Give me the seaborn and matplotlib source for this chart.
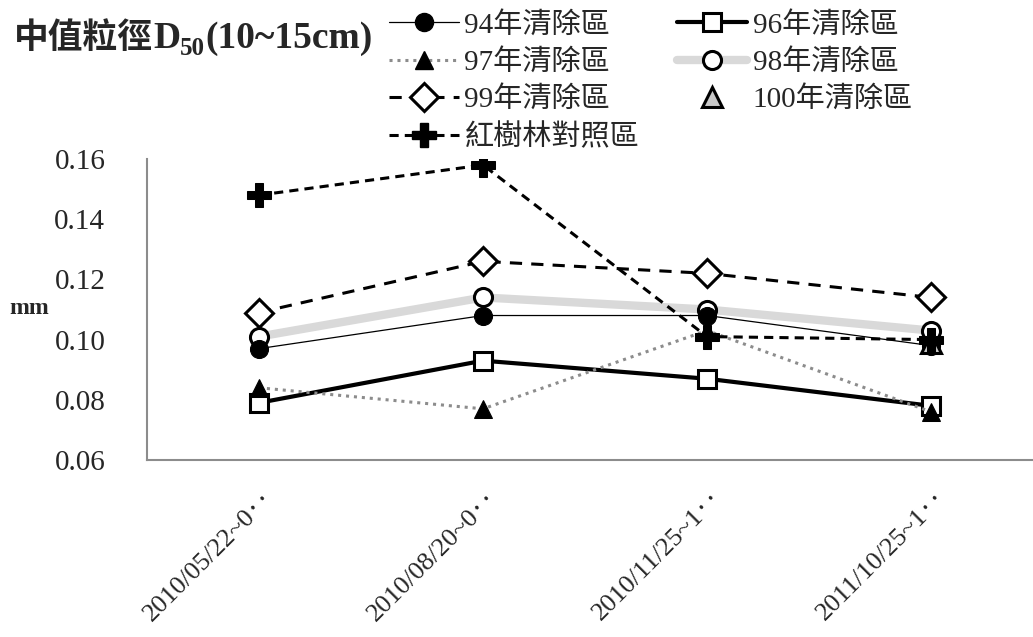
import numpy as np
import pandas as pd
import seaborn as sns
import matplotlib.pyplot as plt
import matplotlib.transforms as mtransforms
from matplotlib.lines import Line2D

# --- data ---
dates = ["2010/05/22~0‥", "2010/08/20~0‥", "2010/11/25~1‥", "2011/10/25~1‥"]
d94 = [0.097, 0.108, 0.108, 0.098]
d96 = [0.079, 0.093, 0.087, 0.078]
d97 = [0.084, 0.077, 0.103, 0.076]
d98 = [0.101, 0.114, 0.110, 0.103]
d99 = [0.109, 0.126, 0.122, 0.114]
d100 = [np.nan, np.nan, np.nan, 0.099]
dmang = [0.148, 0.158, 0.101, 0.100]
yticks = [0.06, 0.08, 0.10, 0.12, 0.14, 0.16]

SERIF = ['Liberation Serif', 'Noto Sans CJK TC', 'DejaVu Sans']

sns.set_style("white")
plt.rcParams['font.family'] = SERIF
plt.rcParams['axes.unicode_minus'] = False

W, H = 1033, 637
fig = plt.figure(figsize=(W / 100, H / 100), dpi=100)
ax = fig.add_axes([147 / W, 177 / H, (W - 147) / W, 301 / H])

x = np.arange(len(dates))

# series styles: (name, values, line kwargs)
series = [
    ("98年清除區", d98, dict(color="#d9d9d9", lw=6, ls="-", marker="o", ms=13,
                         mfc="white", mec="black", mew=2.2)),
    ("94年清除區", d94, dict(color="black", lw=0.9, ls="-", marker="o", ms=13,
                         mfc="black", mec="black")),
    ("96年清除區", d96, dict(color="black", lw=3, ls="-", marker="s", ms=13,
                         mfc="white", mec="black", mew=2.2)),
    ("97年清除區", d97, dict(color="#8c8c8c", lw=2.2, ls=(0, (1, 1.6)), marker="^", ms=13,
                         mfc="black", mec="black")),
    ("99年清除區", d99, dict(color="black", lw=2.2, ls=(0, (4, 3)), marker="D", ms=14,
                         mfc="white", mec="black", mew=2.2)),
    ("100年清除區", d100, dict(color="black", lw=0, ls="", marker="^", ms=14,
                          mfc="#c8c8c8", mec="black", mew=2.2)),
    ("紅樹林對照區", dmang, dict(color="black", lw=2.2, ls=(0, (3, 2)), marker="P", ms=17,
                           mfc="black", mec="black")),
]

handles = {}
for name, vals, kw in series:
    df = pd.DataFrame({"x": x, "y": vals}).dropna()
    sns.lineplot(data=df, x="x", y="y", ax=ax, legend=False, **kw)
    handles[name] = Line2D([], [], **kw)

ax.set_xlim(-0.5, 3.455)
ax.set_ylim(0.06, 0.16)
ax.set_yticks(yticks)
ax.set_yticklabels([f"{v:.2f}" for v in yticks], fontsize=21)
ax.set_xticks(x)
ax.set_xticklabels(dates, fontsize=19, rotation=45, ha="right", va="center",
                   rotation_mode="anchor")
ax.set_xticks(np.arange(-0.5, 3, 1), minor=True)
ax.tick_params(axis="x", which="major", length=0, pad=25)
ax.tick_params(axis="x", which="minor", length=8, width=1.5, color="#8c8c8c", direction="out")
ax.tick_params(axis="y", length=8, width=1.5, color="#8c8c8c", direction="out", pad=22)
offset = mtransforms.ScaledTranslation(0.12, 0, fig.dpi_scale_trans)
for lab in ax.get_xticklabels():
    lab.set_transform(lab.get_transform() + offset)

sns.despine(ax=ax)
for s in ["left", "bottom"]:
    ax.spines[s].set_color("#8c8c8c")
    ax.spines[s].set_linewidth(1.5)
ax.set_xlabel("")
ax.set_ylabel("")

# y unit label
fig.text(9 / W, 1 - 308 / H, "mm", fontsize=17, fontweight="bold", va="center")

# title pieces, placed one after another on a common baseline
base = 1 - 48 / H
pieces = [("中值粒徑", 25, 0, ['Noto Sans CJK TC']),
          ("D", 27, 0, SERIF),
          ("50", 18, -7, SERIF),
          ("(10~15cm)", 27, 0, SERIF)]
fig.canvas.draw()
r = fig.canvas.get_renderer()
xpos = 14 / W
for txt, size, dy, fam in pieces:
    t = fig.text(xpos, base + dy / H, txt, fontsize=size, fontweight="bold",
                 family=fam, va="baseline", ha="left")
    bb = t.get_window_extent(renderer=r)
    xpos = bb.x1 / W

order = ["94年清除區", "97年清除區", "99年清除區", "紅樹林對照區",
         "96年清除區", "98年清除區", "100年清除區"]
fig.legend([handles[n] for n in order], order, loc="upper left",
           bbox_to_anchor=(374 / W, 1.005), ncol=2, frameon=False, fontsize=21,
           handlelength=2.4, handletextpad=0.2, labelspacing=0.36, columnspacing=1.3,
           borderaxespad=0.1)

fig.savefig("out.png", dpi=100)
